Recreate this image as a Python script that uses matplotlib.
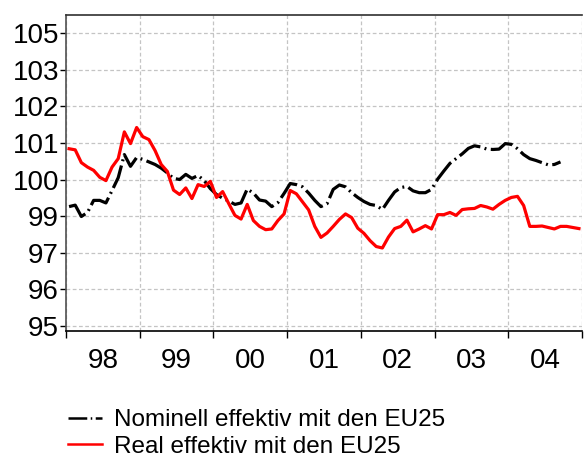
import numpy as np
import matplotlib
matplotlib.use("Agg")
import matplotlib.pyplot as plt

plt.rcParams['font.family'] = ['Liberation Sans', 'DejaVu Sans']

# monthly index values, starting January 1998
nominal = [99.26, 99.30, 98.99, 99.10, 99.43, 99.43, 99.36, 99.70, 100.05, 100.68,
           100.36, 100.60, 100.55, 100.48, 100.41, 100.31, 100.18, 100.03, 100.00, 100.14,
           100.03, 100.11, 99.97, 99.75, 99.59, 99.49, 99.41, 99.32, 99.36, 99.74,
           99.63, 99.44, 99.41, 99.26, 99.37, 99.62, 99.89, 99.86, 99.80, 99.63,
           99.43, 99.26, 99.34, 99.73, 99.85, 99.80, 99.64, 99.51, 99.40, 99.32,
           99.29, 99.18, 99.43, 99.66, 99.78, 99.81, 99.69, 99.64, 99.64, 99.73,
           100.01, 100.23, 100.44, 100.57, 100.70, 100.85, 100.92, 100.89, 100.83, 100.82,
           100.83, 100.98, 100.96, 100.84, 100.68, 100.57, 100.52, 100.46, 100.40, 100.41,
           100.48]
real = [100.84, 100.81, 100.46, 100.34, 100.25, 100.06, 99.97, 100.34, 100.57, 101.30,
        100.98, 101.42, 101.17, 101.09, 100.79, 100.41, 100.22, 99.71, 99.59, 99.77,
        99.48, 99.86, 99.81, 99.95, 99.51, 99.67, 99.34, 99.02, 98.92, 99.32,
        98.88, 98.72, 98.63, 98.65, 98.88, 99.06, 99.70, 99.61, 99.39, 99.17,
        98.72, 98.42, 98.54, 98.72, 98.91, 99.06, 98.96, 98.67, 98.53, 98.33,
        98.17, 98.13, 98.43, 98.66, 98.72, 98.89, 98.57, 98.65, 98.74, 98.65,
        99.04, 99.04, 99.10, 99.02, 99.18, 99.20, 99.21, 99.29, 99.25, 99.19,
        99.32, 99.43, 99.51, 99.54, 99.29, 98.72, 98.72, 98.73, 98.69, 98.65,
        98.72, 98.72, 98.69, 98.66]

years = [1998, 1999, 2000, 2001, 2002, 2003, 2004]
year_labels = ['98', '99', '00', '01', '02', '03', '04']
y_ticks = [96, 97, 98, 99, 100, 101, 102, 103, 104]
y_labels = ['95', '96', '97', '99', '100', '101', '102', '103', '105']

x_nom = 1998 + (np.arange(len(nominal)) + 0.5) / 12
x_real = 1998 + (np.arange(len(real)) + 0.5) / 12

fig = plt.figure(figsize=(5.88, 4.61), dpi=100)
ax = fig.add_axes([66 / 588, 1 - 331 / 461, 516 / 588, 316 / 461])

ax.plot(x_nom, nominal, color='black', lw=2.3, linestyle=(0, (7.5, 1.4, 0.6, 1.4)),
        label='Nominell effektiv mit den EU25', dash_capstyle='butt')
ax.plot(x_real, real, color='#ff0000', lw=2.3, label='Real effektiv mit den EU25')

ax.set_xlim(1998, 2005)
ax.set_ylim(96 - 5 / 36.6, 104 + 18 / 36.6)

ax.set_xticks(years + [2005])
ax.set_xticklabels([])
ax.set_xticks([y + 0.5 for y in years], minor=True)
ax.set_xticklabels(year_labels, minor=True)
ax.tick_params(axis='x', which='major', length=5, width=1, direction='out')
ax.tick_params(axis='x', which='minor', length=0, pad=12, labelsize=20)

ax.set_yticks(y_ticks)
ax.set_yticklabels(y_labels)
ax.tick_params(axis='y', length=4, width=1, direction='out', pad=1, labelsize=20)

ax.grid(True, which='major', color='#c4c4c4', linestyle=(0, (3, 2)), lw=0.9)
ax.spines['right'].set_visible(False)
ax.spines['left'].set_color('#505050')
ax.spines['top'].set_color('#303030')
ax.spines['bottom'].set_color('black')
for s in ax.spines.values():
    s.set_linewidth(1.2)

leg = fig.legend(loc='upper left', bbox_to_anchor=(68 / 588, 1 - 409 / 461), frameon=False,
                 fontsize=17.5, handlelength=1.4, handletextpad=0.5, labelspacing=0.2,
                 borderaxespad=0, borderpad=0)
for line in leg.get_lines():
    line.set_linewidth(1.8)

fig.savefig('out.png', dpi=100)
